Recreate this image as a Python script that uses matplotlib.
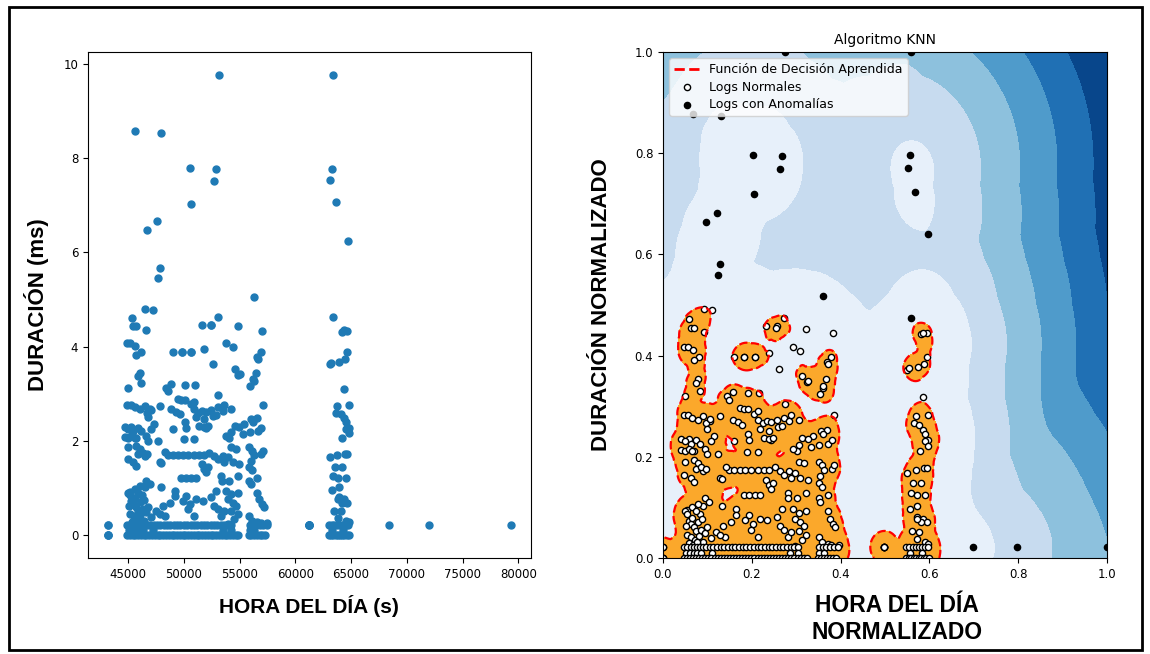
import numpy as np
import matplotlib
matplotlib.use("Agg")
import matplotlib.pyplot as plt
from matplotlib.lines import Line2D
from matplotlib.patches import Rectangle

# --- datos: hora del dia (s) y duracion (ms) ---

# logs normales, zona alta del grupo principal
hora_alta = [46550, 47230, 45360, 45450, 45750, 46580, 53040, 51610, 52450, 53790,
             44910, 45210, 45660, 46130, 45750, 49020, 49820, 50660, 51850, 52650,
             46040, 45890, 46200, 45000, 48430, 48570, 48880, 50120, 51040, 53100,
             54820, 57000, 54380, 56910, 56520, 56610, 54550, 54900, 56460, 56250,
             55950, 49820, 50660, 52400, 55010, 56200]
dur_alta = [4.81, 4.78, 4.61, 4.44, 4.44, 4.36, 4.64, 4.47, 4.47, 4.08,
            4.08, 4.08, 4.02, 3.89, 3.82, 3.89, 3.89, 3.89, 3.96, 3.64,
            3.45, 3.38, 3.22, 3.12, 3.13, 3.06, 3.21, 3.18, 3.18, 2.98,
            4.43, 4.34, 4.0, 3.88, 3.79, 3.74, 3.52, 3.4, 3.45, 3.28,
            3.16, 3.89, 3.89, 4.45, 3.42, 3.32]

# logs normales, zona media (1 - 3 ms)
hora_media = [44910, 45240, 45600, 46040, 46490, 47030, 47830, 49460, 49770, 50120,
              50600, 50950, 48880, 49320, 49620, 50950, 51310, 51640, 52000, 52450,
              53040, 53480, 53630, 54230, 57140, 56520, 46700, 47000, 44700, 45300,
              47320, 52590, 52890, 54080, 54550, 55440, 56040, 56180, 56630, 56920,
              55890, 53790, 54230, 55270, 45000, 45450, 45890, 46200, 47090, 49020,
              45750, 46640, 46790, 47680, 50060, 50950, 46790, 50150, 51100, 51850,
              50210, 51400, 52000, 51850, 52140, 54970, 44700, 45000, 45300, 45600,
              45000, 45750, 46040, 46490, 45890, 48570, 49020, 49460, 49910, 50360,
              50950, 51400, 51850, 52290, 52740, 53040, 53480, 53630, 44950, 45450,
              45750, 51610, 51850, 52140, 52000, 49770, 50210, 50660, 51100, 53340,
              53390, 46640, 46940, 46490, 46040, 47980, 47830, 47980, 46340, 46700,
              48300, 54230, 54670, 53930, 54380, 54970, 55860, 56150, 56300, 56010,
              55860, 56150, 56600, 55860, 56010, 54080, 54820, 56960, 57110]
dur_media = [2.76, 2.76, 2.71, 2.67, 2.75, 2.65, 2.75, 2.89, 2.87, 2.87,
             2.78, 2.83, 2.67, 2.62, 2.57, 2.67, 2.6, 2.64, 2.62, 2.66,
             2.71, 2.64, 2.76, 2.67, 2.77, 2.48, 2.6, 2.68, 2.29, 2.29,
             2.36, 2.52, 2.55, 2.07, 2.32, 2.36, 2.46, 2.39, 2.21, 2.28,
             2.18, 2.11, 2.18, 2.14, 2.25, 2.21, 2.28, 2.21, 2.25, 2.25,
             2.07, 2.11, 2.0, 2.0, 2.04, 2.04, 2.5, 2.39, 2.5, 2.46,
             2.28, 2.32, 2.28, 2.29, 2.32, 2.29, 2.09, 2.07, 2.11, 2.06,
             1.86, 1.9, 1.83, 1.68, 1.72, 1.69, 1.69, 1.69, 1.69, 1.69,
             1.69, 1.69, 1.69, 1.75, 1.68, 1.61, 1.68, 1.54, 1.61, 1.54,
             1.47, 1.51, 1.4, 1.44, 1.33, 1.22, 1.21, 1.21, 1.22, 1.26,
             1.15, 1.15, 1.08, 1.01, 1.05, 1.01, 1.54, 1.52, 1.75, 1.72,
             1.76, 1.86, 1.83, 1.65, 1.54, 1.51, 1.86, 1.79, 1.69, 1.58,
             1.44, 1.37, 1.22, 1.15, 1.08, 1.15, 1.25, 1.72, 1.79]

# logs normales, zona baja (0.2 - 1 ms)
hora_baja = [45150, 45600, 49170, 49170, 50210, 49910, 50510, 51100, 50360, 50950,
             51700, 52450, 52740, 53040, 53340, 48280, 45000, 45150, 45300, 45450,
             45600, 45750, 45900, 46050, 45200, 45500, 45800, 46100, 46300, 46450,
             45350, 45650, 46000, 46600, 46250, 46800, 45100, 45900, 46400, 47100,
             47500, 48100, 53790, 54230, 54820, 53930, 54380, 54670, 54230, 54820,
             54520, 53930, 56600, 56750, 57040, 57190, 55860, 56150, 56600, 56900,
             57500, 48720, 47830, 52890, 53630]
dur_baja = [0.92, 0.98, 0.94, 0.83, 0.83, 0.73, 0.66, 0.76, 0.55, 0.41,
            0.73, 0.8, 0.62, 0.55, 0.41, 0.41, 0.9, 0.85, 0.72, 0.65,
            0.78, 0.6, 0.52, 0.7, 0.45, 0.4, 0.35, 0.42, 0.55, 0.3,
            0.28, 0.25, 0.3, 0.48, 0.85, 0.6, 0.62, 0.9, 0.75, 0.38,
            0.5, 0.62, 0.94, 0.87, 0.9, 0.76, 0.69, 0.62, 0.52, 0.45,
            0.34, 0.23, 0.9, 0.76, 0.66, 0.59, 0.4, 0.3, 0.27, 0.25,
            0.25, 0.69, 0.45, 0.94, 0.5]

# logs normales, columna de 63000 - 65000 s
hora_col = [64200, 64650, 64650, 64440, 63910, 63070, 64350, 63750, 64790, 63600,
            64050, 64350, 64500, 64790, 64500, 64790, 64140, 63070, 63750, 64440,
            64640, 63540, 64200, 63360, 63840, 64500, 63900, 63300, 63900, 64350,
            64640, 64200, 63840, 63450, 64050, 63840, 64500, 64790, 64320, 63240]
dur_col = [4.32, 4.34, 3.88, 3.74, 3.68, 3.63, 3.1, 2.75, 2.77, 2.6,
           2.57, 2.48, 2.39, 2.28, 2.25, 2.16, 2.07, 1.65, 1.7, 1.73,
           1.73, 1.45, 1.45, 1.26, 1.22, 1.22, 1.01, 0.95, 0.8, 0.76,
           0.69, 0.69, 0.76, 0.52, 0.5, 0.37, 0.3, 0.27, 4.35, 3.66]

# filas casi constantes cerca de 0 ms
hora_fila02 = [43210, 43210, 44900, 45200, 45450, 45700, 45950, 46200, 46450, 46700,
               47000, 47300, 47600, 47900, 48200, 48500, 48800, 49100, 49400, 49700,
               50000, 50300, 50600, 50900, 51200, 51500, 51800, 52100, 52400, 52700,
               53000, 53300, 53600, 53900, 54200, 55900, 56200, 56500, 56800, 57100,
               57450, 61220, 61220, 61220, 61220, 61220, 63000, 63250, 63500, 63750,
               64000, 64250, 64500, 64750]
dur_fila02 = 0.21
hora_fila01 = [45100, 45400, 45700, 46000, 46300, 47200, 53500, 54200, 55900, 56300,
               63300, 64300]
dur_fila01 = 0.1
hora_fila0 = [43210, 43210, 43210, 44900, 45150, 45400, 45650, 45900, 46150, 46400,
              46650, 46900, 47150, 47400, 47650, 47900, 48150, 48400, 48650, 48900,
              49150, 49400, 49650, 49900, 50150, 50400, 50650, 50900, 51150, 51400,
              51650, 51900, 52150, 52400, 52650, 52900, 53150, 53400, 53650, 53900,
              54150, 54400, 54650, 54900, 55800, 56050, 56300, 56550, 56800, 57050,
              57300, 63000, 63200, 63400, 63600, 63800, 64000, 64200, 64400, 64600,
              64800]
dur_fila0 = 0.0

# logs con anomalias
hora_anom = [53130, 63390, 45630, 47920, 50510, 52890, 52740, 50600, 47590, 46730,
             47830, 47710, 56250, 63300, 63100, 63660, 64750, 63390, 68440, 72020,
             79300]
dur_anom = [9.77, 9.77, 8.58, 8.53, 7.79, 7.77, 7.52, 7.03, 6.66, 6.48,
            5.68, 5.46, 5.06, 7.78, 7.53, 7.07, 6.25, 4.63, 0.21, 0.21,
            0.21]

N_VECINOS = 5
UMBRAL = 0.032

hora_normal = np.concatenate([hora_alta, hora_media, hora_baja, hora_col,
                              hora_fila02, hora_fila01, hora_fila0]).astype(float)
dur_normal = np.concatenate([dur_alta, dur_media, dur_baja, dur_col,
                             np.full(len(hora_fila02), dur_fila02),
                             np.full(len(hora_fila01), dur_fila01),
                             np.full(len(hora_fila0), dur_fila0)])
hora_anom = np.array(hora_anom, dtype=float)
dur_anom = np.array(dur_anom)

hora_todo = np.concatenate([hora_normal, hora_anom])
dur_todo = np.concatenate([dur_normal, dur_anom])

# normalizacion min-max
hmin, hmax = hora_todo.min(), hora_todo.max()
dmin, dmax = dur_todo.min(), dur_todo.max()
Xn = np.c_[(hora_normal - hmin) / (hmax - hmin), (dur_normal - dmin) / (dmax - dmin)]
Xa = np.c_[(hora_anom - hmin) / (hmax - hmin), (dur_anom - dmin) / (dmax - dmin)]
X = np.vstack([Xn, Xa])

# funcion de decision knn: media de las distancias a los k vecinos
xx, yy = np.meshgrid(np.linspace(0, 1, 300), np.linspace(0, 1, 300))
rejilla = np.c_[xx.ravel(), yy.ravel()]
score = np.empty(len(rejilla))
for i in range(0, len(rejilla), 3000):
    bloque = rejilla[i:i + 3000]
    d = np.hypot(bloque[:, 0, None] - X[None, :, 0], bloque[:, 1, None] - X[None, :, 1])
    d = np.partition(d, N_VECINOS - 1, axis=1)[:, :N_VECINOS]
    score[i:i + 3000] = d.mean(axis=1)
Z = (-score).reshape(xx.shape)

fig = plt.figure(figsize=(11.5, 6.54), dpi=100)
ax1 = fig.add_axes([0.0765, 0.1468, 0.385, 0.7737])
ax2 = fig.add_axes([0.5765, 0.1468, 0.386, 0.7737])

# izquierda: datos originales
ax1.scatter(hora_todo, dur_todo, s=25, color="#1f7ab5")
ax1.set_xlabel("HORA DEL DÍA (s)", fontsize=15, fontweight="bold",
               family="Liberation Sans", labelpad=10)
ax1.set_ylabel("DURACIÓN (ms)", fontsize=16, fontweight="bold",
               family="Liberation Sans", labelpad=10)
ax1.tick_params(labelsize=8.5)

# derecha: knn
ax2.contourf(xx, yy, Z, levels=np.linspace(Z.min(), -UMBRAL, 7), cmap=plt.cm.Blues_r)
ax2.contourf(xx, yy, Z, levels=[-UMBRAL, Z.max()], colors="#fba82b")
ax2.contour(xx, yy, Z, levels=[-UMBRAL], linewidths=1.6, colors="red", linestyles="dashed")
b = ax2.scatter(Xn[:, 0], Xn[:, 1], s=20, c="white", edgecolor="k")
c = ax2.scatter(Xa[:, 0], Xa[:, 1], s=20, c="black", edgecolor="k")
ax2.set_xlim(0, 1)
ax2.set_ylim(0, 1)
ax2.set_title("Algoritmo KNN", fontsize=10)
linea = Line2D([], [], color="red", linestyle="--", linewidth=2)
ax2.legend([linea, b, c],
           ["Función de Decisión Aprendida", "Logs Normales", "Logs con Anomalías"],
           loc="upper left", fontsize=9, labelspacing=0.35)
ax2.set_xlabel("HORA DEL DÍA\nNORMALIZADO", fontsize=16.5, fontweight="bold",
               family="Liberation Sans")
ax2.xaxis.set_label_coords(0.527, -0.072, transform=ax2.transAxes)
ax2.xaxis.label.set_va("top")
ax2.set_ylabel("DURACIÓN NORMALIZADO", fontsize=16, fontweight="bold",
               family="Liberation Sans", labelpad=16)
ax2.tick_params(labelsize=8.5)

# marco exterior
fig.patches.append(Rectangle((0.008, 0.006), 0.985, 0.983, transform=fig.transFigure,
                             fill=False, edgecolor="black", linewidth=2))

fig.savefig("out.png", dpi=100)
